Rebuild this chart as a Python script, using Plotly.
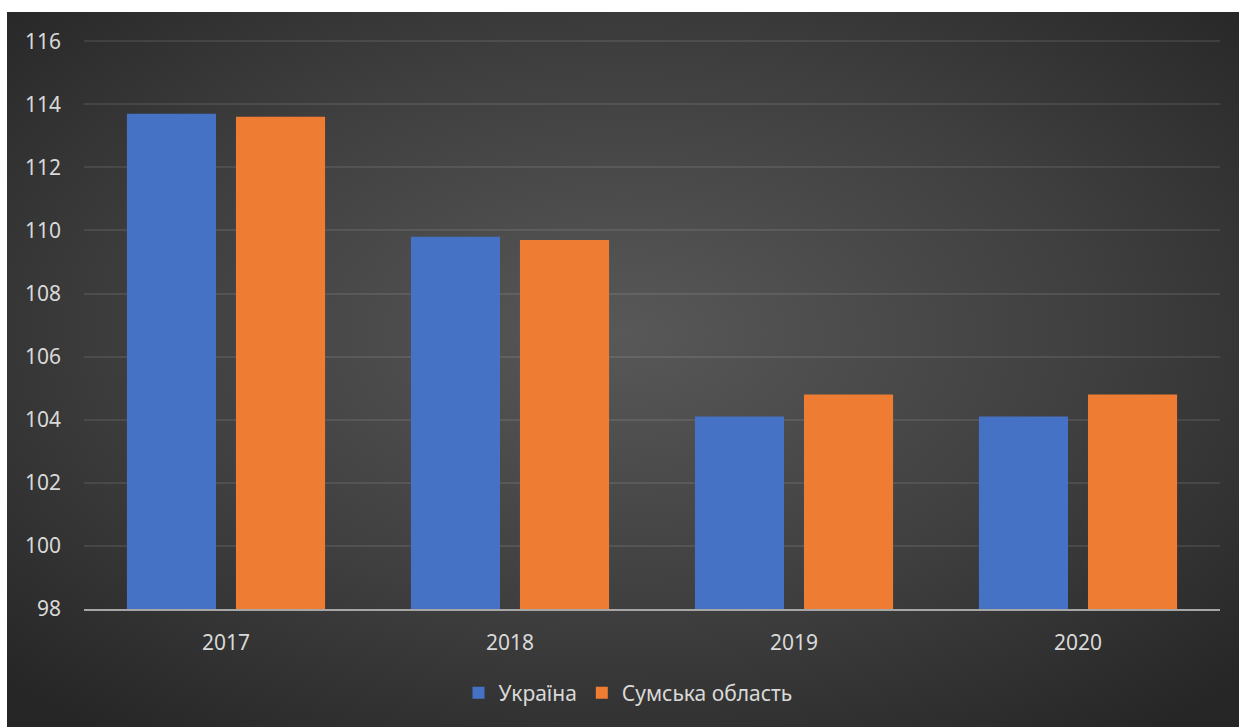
import base64
import plotly.graph_objects as go

years = ["2017", "2018", "2019", "2020"]
ukraine = [113.7, 109.8, 104.1, 104.1]
sumy = [113.6, 109.7, 104.8, 104.8]
series_names = ["Україна", "Сумська область"]
y_ticks = [98, 100, 102, 104, 106, 108, 110, 112, 114, 116]

W, H = 1239, 727
ML, MR, MT, MB = 84, 19, 38, 118
pw = W - ML - MR
ph = H - MT - MB

svg = (
    '<svg xmlns="http://www.w3.org/2000/svg" width="1232" height="715" '
    'viewBox="0 0 1232 715" preserveAspectRatio="none">'
    '<defs><radialGradient id="g" cx="50%" cy="45%" r="70%">'
    '<stop offset="0" stop-color="#585858"/>'
    '<stop offset="0.55" stop-color="#3f3f3f"/>'
    '<stop offset="1" stop-color="#262626"/>'
    '</radialGradient></defs>'
    '<rect width="1232" height="715" fill="url(#g)"/></svg>'
)
bg_src = "data:image/svg+xml;base64," + base64.b64encode(svg.encode()).decode()

font = "Noto Sans, Open Sans, sans-serif"

fig = go.Figure()
fig.add_trace(go.Bar(name=series_names[0], x=years, y=ukraine,
                     marker=dict(color="#4672c6", line=dict(width=0))))
fig.add_trace(go.Bar(name=series_names[1], x=years, y=sumy,
                     marker=dict(color="#ee7d33", line=dict(width=0))))

fig.update_layout(
    width=W, height=H,
    margin=dict(l=ML, r=MR, t=MT, b=MB, pad=0),
    paper_bgcolor="white",
    plot_bgcolor="rgba(0,0,0,0)",
    barmode="group",
    bargap=0.232,
    bargroupgap=0.183,
    font=dict(family=font, color="#d9d9d9", size=21),
    showlegend=True,
    legend=dict(orientation="h", x=(628 - ML) / pw, xanchor="center",
                y=(609 - 693) / ph, yanchor="middle",
                font=dict(size=21, color="#d9d9d9"),
                bgcolor="rgba(0,0,0,0)", traceorder="normal"),
    images=[dict(source=bg_src, xref="paper", yref="paper",
                 x=(7 - ML) / pw, y=(609 - 12) / ph,
                 sizex=1232 / pw, sizey=715 / ph,
                 xanchor="left", yanchor="top", sizing="stretch",
                 layer="below")],
)
fig.update_yaxes(range=[98, 116.1], tickvals=y_ticks, showgrid=True,
                 gridcolor="rgba(255,255,255,0.09)", gridwidth=1.5,
                 zeroline=False, showline=False, ticks="",
                 ticklabelstandoff=22, tickfont=dict(size=21, color="#d9d9d9"))
fig.update_xaxes(showline=True, linecolor="#a6a6a6", linewidth=2,
                 ticks="", ticklabelstandoff=14,
                 tickfont=dict(size=21, color="#d9d9d9"))

fig.write_html("out.html")
